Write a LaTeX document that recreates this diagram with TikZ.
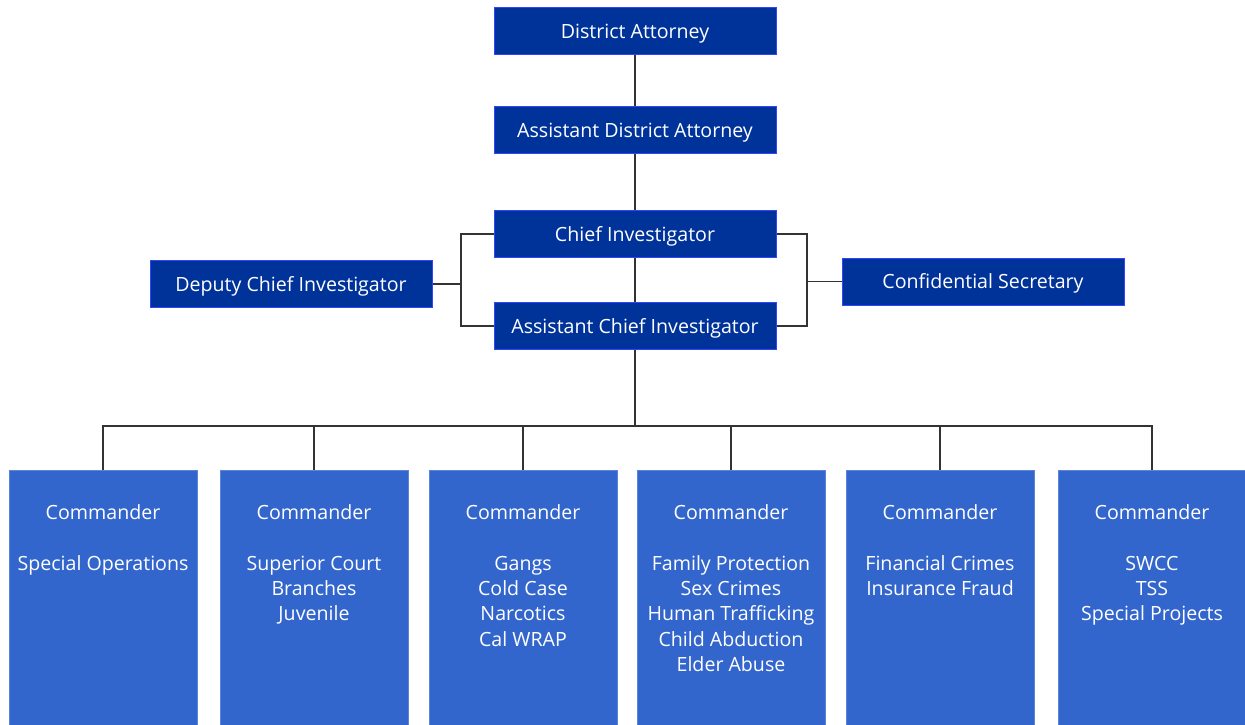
\documentclass[tikz,border=0pt]{standalone}
\usepackage{fontspec}
\setmainfont{Open Sans}
\definecolor{topfill}{HTML}{003399}
\definecolor{topedge}{HTML}{3344FF}
\definecolor{cmdfill}{HTML}{3366CC}
\definecolor{cmdedge}{HTML}{5A85DA}
\definecolor{linec}{HTML}{333333}
\begin{document}
\begin{tikzpicture}[x=1pt,y=-1pt,
  topbox/.style={draw=topedge,fill=topfill,line width=1pt,text=white,minimum width=282pt,minimum height=47pt,inner sep=0pt,text height=15pt,text depth=1pt,font=\fontsize{19.6}{23}\selectfont},
  cmdbox/.style={draw=cmdedge,fill=cmdfill,line width=1pt,minimum width=188pt,minimum height=260pt,inner sep=0pt},
  cmdtext/.style={text=white,align=center,anchor=north,inner sep=0pt,font=\fontsize{19.6}{25.3}\selectfont},
  conn/.style={draw=linec,line width=1.3pt}]
\useasboundingbox (0,0) rectangle (1245,725);
\node[topbox] (da) at (635,31.5) {District Attorney};
\node[topbox] (ada) at (635,130) {Assistant District Attorney};
\node[topbox] (ci) at (635,234) {Chief Investigator};
\node[topbox] (aci) at (635,326) {Assistant Chief Investigator};
\node[topbox] (dci) at (291,284) {Deputy Chief Investigator};
\node[topbox] (cs) at (983,281.5) {Confidential Secretary};
\coordinate (bus) at (635,426);
\coordinate (lb) at (461,284);
\coordinate (rb) at (807,281.5);
\draw[conn] (da) -- (ada);
\draw[conn] (ada) -- (ci);
\draw[conn] (ci) -- (aci);
\draw[conn] (aci) -- (bus);
\draw[conn] (ci.west) -| (lb) |- (aci.west);
\draw[conn] (dci.east) -- (lb);
\draw[conn] (ci.east) -| (rb) |- (aci.east);
\draw[conn] (cs.west) -- (rb);
\foreach \n/\x in {c1/103,c2/314,c3/523,c4/731,c5/940,c6/1152}{
  \node[cmdbox] (\n) at (\x,600) {};
}
\node[cmdtext] (t1) at (c1.north) [yshift=-35pt] {Commander\\[25.5pt]Special Operations};
\node[cmdtext] (t2) at (c2.north) [yshift=-35pt] {Commander\\[25.5pt]Superior Court\\Branches\\Juvenile};
\node[cmdtext] (t3) at (c3.north) [yshift=-35pt] {Commander\\[25.5pt]Gangs\\Cold Case\\Narcotics\\Cal WRAP};
\node[cmdtext] (t4) at (c4.north) [yshift=-35pt] {Commander\\[25.5pt]Family Protection\\Sex Crimes\\Human Trafficking\\Child Abduction\\Elder Abuse};
\node[cmdtext] (t5) at (c5.north) [yshift=-35pt] {Commander\\[25.5pt]Financial Crimes\\Insurance Fraud};
\node[cmdtext] (t6) at (c6.north) [yshift=-35pt] {Commander\\[25.5pt]SWCC\\TSS\\Special Projects};
\draw[conn] (c1.north) |- (bus) -| (c6.north);
\foreach \n in {c2,c3,c4,c5}{
  \draw[conn] (\n.north) -- (\n.north |- bus);
}
\end{tikzpicture}
\end{document}
